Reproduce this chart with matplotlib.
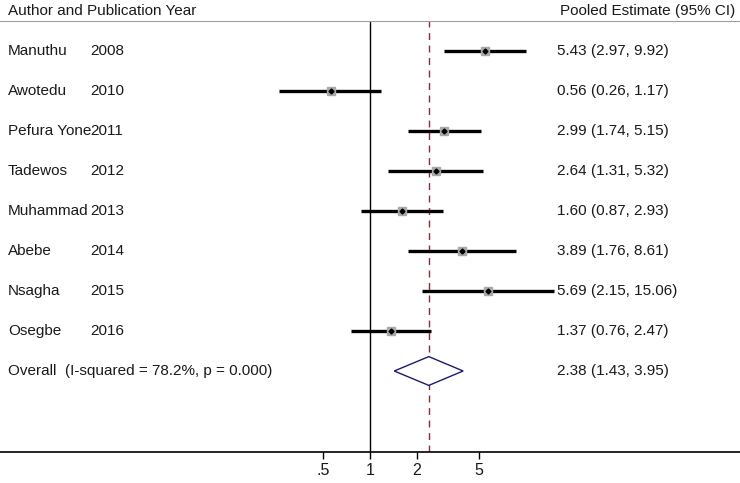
import numpy as np
import matplotlib.pyplot as plt

authors = ['Manuthu', 'Awotedu', 'Pefura Yone', 'Tadewos', 'Muhammad', 'Abebe', 'Nsagha', 'Osegbe']
years = ['2008', '2010', '2011', '2012', '2013', '2014', '2015', '2016']
est = [5.43, 0.56, 2.99, 2.64, 1.60, 3.89, 5.69, 1.37]
lo = [2.97, 0.26, 1.74, 1.31, 0.87, 1.76, 2.15, 0.76]
hi = [9.92, 1.17, 5.15, 5.32, 2.93, 8.61, 15.06, 2.47]
pooled = 2.38
pooled_lo = 1.43
pooled_hi = 3.95
overall_label = 'Overall  (I-squared = 78.2%, p = 0.000)'
ticks = [0.5, 1, 2, 5]
tick_labels = ['.5', '1', '2', '5']

plt.rcParams['font.family'] = ['Liberation Sans', 'DejaVu Sans']
fs = 11
tc = '#1a1a1a'

fig = plt.figure(figsize=(7.4, 4.83), dpi=100)
ax = fig.add_axes([0, 31/483, 1, 431/483])
ax.set_xscale('log')
span = np.exp(370/67.8)
ax.set_xlim(1/span, span)
ax.set_ylim(10.025, -0.75)

n = len(authors)
rows = np.arange(n)
tr = ax.get_yaxis_transform()  # x in axes fraction, y in data

for i in range(n):
    ax.plot([lo[i], hi[i]], [rows[i], rows[i]], color='black', lw=2.4, solid_capstyle='butt', zorder=3)
    ax.plot(est[i], rows[i], marker='s', ms=6, color='#a8a8a8', mec='#a8a8a8', zorder=4)
    ax.plot(est[i], rows[i], marker='D', ms=2.5, color='black', zorder=5)
    ax.text(8/740, rows[i], authors[i], transform=tr, fontsize=fs, color=tc, va='center', ha='left')
    ax.text(90/740, rows[i], years[i], transform=tr, fontsize=fs, color=tc, va='center', ha='left')
    ax.text(557/740, rows[i], f'{est[i]:.2f} ({lo[i]:.2f}, {hi[i]:.2f})', transform=tr,
            fontsize=fs, color=tc, va='center', ha='left')

# pooled diamond
yo = n
ax.fill([pooled_lo, pooled, pooled_hi, pooled], [yo, yo - 0.36, yo, yo + 0.36],
        facecolor='white', edgecolor='#1a1a6e', lw=1, zorder=4)
ax.text(8/740, yo, overall_label, transform=tr, fontsize=fs, color=tc, va='center', ha='left')
ax.text(557/740, yo, f'{pooled:.2f} ({pooled_lo:.2f}, {pooled_hi:.2f})', transform=tr,
        fontsize=fs, color=tc, va='center', ha='left')

ax.axvline(1, color='black', lw=1, zorder=2)
ax.axvline(pooled, color='#8b2a3a', lw=1, ls=(0, (5, 4)), zorder=2)

# header
ax.text(8/740, 1.0 + 10/431, 'Author and Publication Year', transform=ax.transAxes,
        fontsize=fs, color=tc, va='center', ha='left')
ax.text(735/740, 1.0 + 10/431, 'Pooled Estimate (95% CI)', transform=ax.transAxes,
        fontsize=fs, color=tc, va='center', ha='right')

for s in ['left', 'right']:
    ax.spines[s].set_visible(False)
ax.spines['top'].set_color('#a0a0a0')
ax.spines['bottom'].set_linewidth(1.2)
ax.set_yticks([])
ax.set_xticks(ticks)
ax.set_xticklabels(tick_labels, fontsize=11.5, color=tc)
ax.minorticks_off()
ax.tick_params(axis='x', direction='out', length=5, width=1, pad=3)

fig.savefig('out.png', dpi=100)
